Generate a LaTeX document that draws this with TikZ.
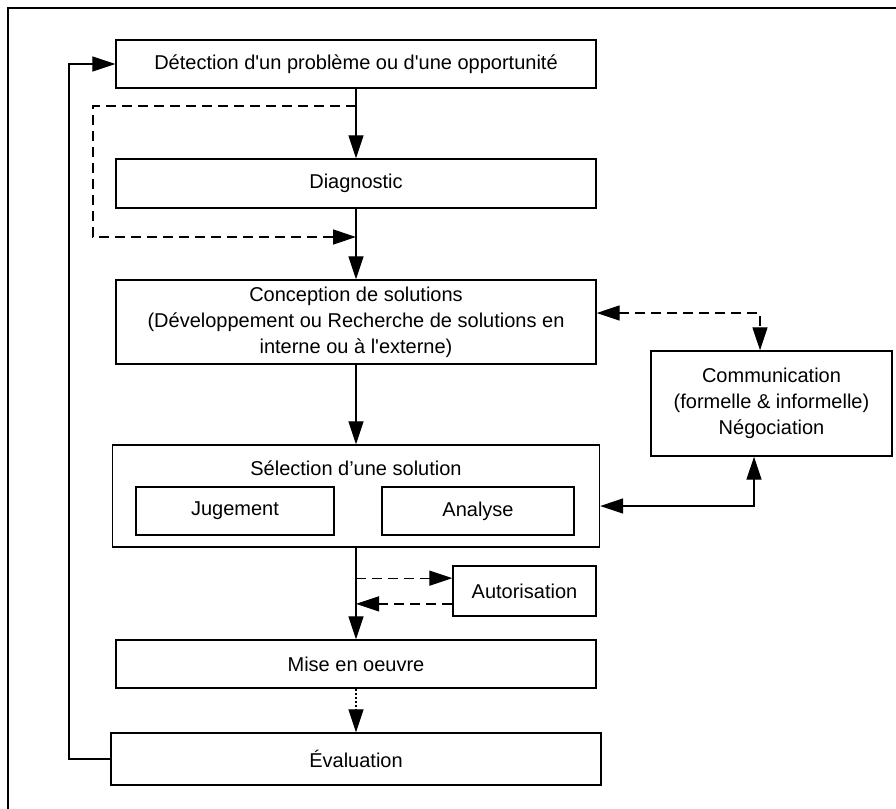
\documentclass[tikz,border=0pt]{standalone}
\usepackage{fontspec}
\setmainfont{Liberation Sans}
\usepackage{tikz}
\usetikzlibrary{arrows.meta, positioning, calc}
\tikzset{
  >=Triangle,
  stepbox/.style={draw, line width=1.4pt, inner sep=0pt, align=center, font=\fontsize{20}{26}\selectfont},
  steptitle/.style={inner sep=0pt, font=\fontsize{20}{26}\selectfont},
  flowarrow/.style={-{Triangle[length=23pt, width=15pt]}, line width=1.3pt},
  flowarrow_dash/.style={flowarrow, dash pattern=on 10pt off 6pt},
  flowarrow_dot/.style={flowarrow, dash pattern=on 2pt off 2pt},
  flowarrow_both/.style={{Triangle[length=23pt, width=15pt]}-{Triangle[length=23pt, width=15pt]}, line width=1.3pt}
}
\begin{document}
\begin{tikzpicture}[x=1pt, y=-1pt]
    \useasboundingbox (0,0) rectangle (896,808);
    \draw[line width=1.4pt] (8,8) rectangle (930,840);

    \node (detect) [stepbox, minimum width=480pt, minimum height=48pt] at (356,64) {Détection d\textquotesingle un problème ou d\textquotesingle une opportunité};
    \node (diag) [stepbox, minimum width=480pt, minimum height=49pt] at (356,183.5) {Diagnostic};
    \node (concep) [stepbox, minimum width=480pt, minimum height=84pt] at (356,322) {Conception de solutions\\(Développement ou Recherche de solutions en\\interne ou à l\textquotesingle externe)};
    \node (select) [stepbox, minimum width=487pt, minimum height=102pt] at (356,496) {};
    \node (selecttitle) [steptitle] at (356,468) {Sélection d’une solution};
    \node (judge) [stepbox, minimum width=198pt, minimum height=48pt] at (235,511) {Jugement};
    \node (analyse) [stepbox, minimum width=192pt, minimum height=48pt] at (478,511) {Analyse};
    \node (comm) [stepbox, minimum width=241pt, minimum height=105pt] at (771.5,403.5) {Communication\\(formelle \& informelle)\\Négociation};
    \node (autor) [stepbox, minimum width=143pt, minimum height=50pt] at (524.5,591) {Autorisation};
    \node (impl) [stepbox, minimum width=480pt, minimum height=48pt] at (356,664) {Mise en oeuvre};
    \node (eval) [stepbox, minimum width=490pt, minimum height=52pt] at (356,759) {Évaluation};

    \coordinate (brA) at (356,106);
    \coordinate (brB) at (356,237);
    \coordinate (loopL) at (93,237);
    \coordinate (fbL) at (69,759);
    \coordinate (cA) at (760,313);
    \coordinate (cB) at (754,506);
    \coordinate (autIn) at ($(autor.north west)!0.25!(autor.south west)$);
    \coordinate (autOut) at ($(autor.north west)!0.75!(autor.south west)$);

    \draw[flowarrow] (detect) -- (diag);
    \draw[flowarrow_dash] (brA) -| (loopL) -- (brB);
    \draw[flowarrow] (diag) -- (concep);
    \draw[flowarrow] (concep) -- (select);
    \draw[flowarrow] (select) -- (impl);
    \draw[flowarrow_dash] (autIn -| select.south) -- (autIn);
    \draw[flowarrow_dash] (autOut) -- (autOut -| select.south);
    \draw[flowarrow_dot] (impl) -- (eval);
    \draw[flowarrow] (eval.west) -- (fbL) |- (detect.west);

    \draw[flowarrow_both, dash pattern=on 10pt off 6pt] (concep.east |- cA) -- (cA) -- (cA |- comm.north);
    \draw[flowarrow_both] (select.east |- cB) -- (cB) -- (cB |- comm.south);
\end{tikzpicture}
\end{document}
